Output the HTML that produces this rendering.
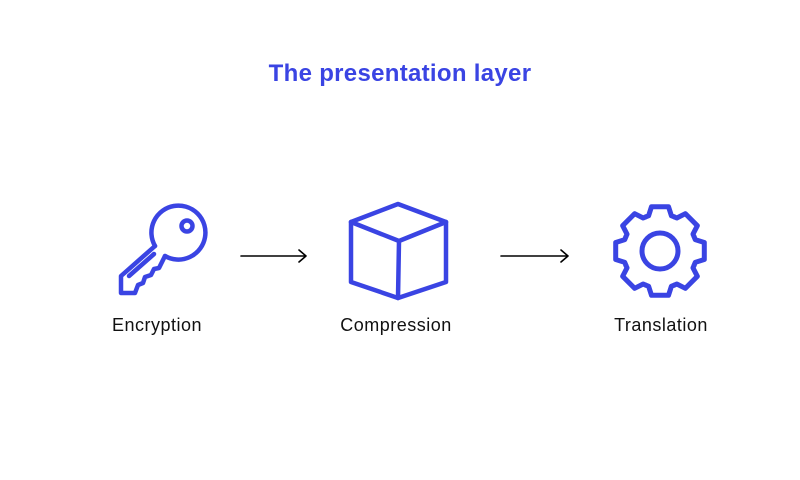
<!DOCTYPE html>
<html><head><style>
html,body{margin:0;padding:0;background:#fff;}
svg{display:block}
</style></head><body>
<svg width="800" height="480" viewBox="0 0 800 480" xmlns="http://www.w3.org/2000/svg">
<text x="400" y="81" text-anchor="middle" font-family="Liberation Sans, sans-serif" font-weight="bold" font-size="24" letter-spacing="0.3" fill="#3a44e3">The presentation layer</text>
<g fill="none" stroke="#3a44e3" stroke-width="4.5" stroke-linejoin="round" stroke-linecap="round">
  <!-- key -->
  <path d="M155,246 A27,27 0 1 1 165,256"/>
  <circle cx="187" cy="226" r="5.5"/>
  <path d="M155,246 L121,276 L121,293 L135,293 L138,285 L143,283 L145,277 L151,275 L154,269 L159,268 L165,256"/>
  <path d="M154,254 L129,276"/>
  <!-- cube -->
  <path d="M398,204 L446,222 L446,282 L398,298 L351,282 L351,222 Z"/>
  <path d="M351,222 L399,241 L446,222 M399,241 L398,298"/>
  <!-- gear -->
  <g transform="translate(660,251)" stroke-width="5">
    <g id="seg"><path d="M-14.16,-34.18 L-11.43,-35.19 L-8.5,-44.3 L8.5,-44.3 L11.43,-35.19 L14.16,-34.18"/></g>
    <use href="#seg" transform="rotate(45)"/>
    <use href="#seg" transform="rotate(90)"/>
    <use href="#seg" transform="rotate(135)"/>
    <use href="#seg" transform="rotate(180)"/>
    <use href="#seg" transform="rotate(225)"/>
    <use href="#seg" transform="rotate(270)"/>
    <use href="#seg" transform="rotate(315)"/>
    <circle cx="0" cy="0" r="18"/>
  </g>
</g>
<g fill="none" stroke="#000" stroke-width="1.6" stroke-linecap="round" stroke-linejoin="round">
  <path d="M241,256 L306,256 M299,250 L306,256 L299,262"/>
  <path d="M501,256 L568,256 M561,250 L568,256 L561,262"/>
</g>
<g font-family="Liberation Sans, sans-serif" font-size="18" letter-spacing="0.5" fill="#111" text-anchor="middle">
  <text x="157" y="331">Encryption</text>
  <text x="396" y="331">Compression</text>
  <text x="661" y="331">Translation</text>
</g>
</svg>
</body></html>
